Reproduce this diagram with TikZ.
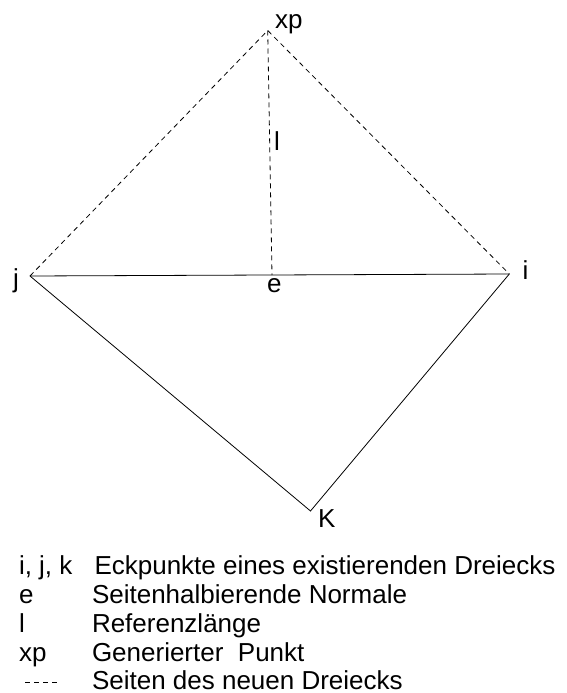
\documentclass[tikz,border=0pt]{standalone}
\usepackage{fontspec}
\setmainfont{Liberation Sans}
\begin{document}
\begin{tikzpicture}[x=1pt,y=-1pt,
  lbl/.style={anchor=base west,inner sep=0pt,outer sep=0pt,font=\fontsize{26}{28}\selectfont},
  dsh/.style={dash pattern=on 5pt off 4pt,line width=0.8pt},
  sld/.style={line width=0.8pt}]
\useasboundingbox (0,0) rectangle (566,693);
\coordinate (xp) at (267.7,30.5);
\coordinate (j) at (30,276);
\coordinate (i) at (509.3,274);
\coordinate (e) at (272,275);
\coordinate (K) at (310.5,511);
\draw[sld] (j) -- (i);
\draw[sld] (j) -- (K) -- (i);
\draw[dsh] (j) -- (xp) -- (i);
\draw[dsh] (xp) -- (e);
\node[lbl] (lxp) at (275,29) {xp};
\node[lbl] (lj) at (13,287) {j};
\node[lbl] (li) at (522.5,279) {i};
\node[lbl] (le) at (267,292) {e};
\node[lbl] (lK) at (318,527) {K};
\node[lbl] (ll) at (274,150) {l};
% legend
\node[lbl] (k1) at (19,574) {i, j, k};
\node[lbl] (v1) at (94.5,574) {Eckpunkte eines existierenden Dreiecks};
\node[lbl] (k2) at (19,603) {e};
\node[lbl] (v2) at (92,603) {Seitenhalbierende Normale};
\node[lbl] (k3) at (19,632) {l};
\node[lbl] (v3) at (92,632) {Referenzlänge};
\node[lbl] (k4) at (19,661) {xp};
\node[lbl] (v4) at (92,661) {Generierter\ \ Punkt};
\coordinate (d1) at (25,682);
\coordinate (d2) at (58,682);
\draw[dsh] (d1) -- (d2);
\node[lbl] (v5) at (92,689) {Seiten des neuen Dreiecks};
\end{tikzpicture}
\end{document}
